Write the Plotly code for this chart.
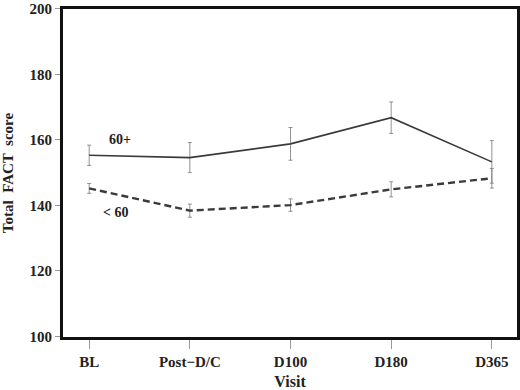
import plotly.graph_objects as go

visits = ["BL", "Post\u2212D/C", "D100", "D180", "D365"]
age60plus = [155.3, 154.6, 158.8, 166.8, 153.3]
age60plus_err = [3.1, 4.6, 5.0, 4.8, 6.5]
under60 = [145.2, 138.4, 140.1, 144.9, 148.3]
under60_err = [1.5, 2.0, 1.9, 2.3, 3.0]
y_ticks = [100, 120, 140, 160, 180, 200]

FONT = "Liberation Serif"
xi = list(range(len(visits)))

fig = go.Figure()
fig.add_trace(go.Scatter(
    x=xi, y=age60plus, mode="lines",
    line=dict(color="#3a3a3a", width=1.6),
    error_y=dict(type="data", array=age60plus_err, color="#777777", thickness=0.8, width=2),
    showlegend=False, cliponaxis=False))
fig.add_trace(go.Scatter(
    x=xi, y=under60, mode="lines",
    line=dict(color="#3a3a3a", width=2.4, dash="7px,4px"),
    error_y=dict(type="data", array=under60_err, color="#777777", thickness=0.8, width=2),
    showlegend=False, cliponaxis=False))

fig.add_annotation(x=0.31, y=160, text="<b>60+</b>", showarrow=False,
                   font=dict(family=FONT, size=14, color="#222"))
fig.add_annotation(x=0.26, y=137.8, text="<b>&lt; 60</b>", showarrow=False,
                   font=dict(family=FONT, size=14, color="#222"))

# plot frame
fig.add_shape(type="rect", xref="paper", yref="paper", x0=0, x1=1, y0=0, y1=1,
              line=dict(color="#111", width=2), layer="above")

fig.update_layout(
    width=520, height=390,
    margin=dict(l=62, r=2, t=8, b=52, autoexpand=False),
    paper_bgcolor="white", plot_bgcolor="white",
    font=dict(family=FONT, size=15, color="#222"),
)
fig.update_xaxes(
    range=[-0.27, 4.26], tickmode="array", tickvals=xi,
    ticktext=["<b>%s</b>" % v for v in visits],
    showgrid=False, zeroline=False, automargin=False,
    showline=True, linecolor="#111", linewidth=2, mirror=True,
    ticks="outside", ticklen=9, tickcolor="#999", tickwidth=1,
    title=dict(text="<b>Visit</b>", font=dict(family=FONT, size=16), standoff=11),
    tickfont=dict(family=FONT, size=15),
)
fig.update_yaxes(
    range=[99.5, 200.3], tickmode="array", tickvals=y_ticks,
    ticktext=["<b>%d</b>" % v for v in y_ticks],
    showgrid=False, zeroline=False, automargin=False,
    showline=True, linecolor="#111", linewidth=2, mirror=True,
    ticks="outside", ticklen=5, tickcolor="#999", tickwidth=1,
    ticklabeloverflow="allow",
    title=dict(text="<b>Total  FACT  score</b>", font=dict(family=FONT, size=15), standoff=14),
    tickfont=dict(family=FONT, size=15),
)

fig.write_html("out.html", config={"displayModeBar": False},
               post_script="document.body.style.margin='0';document.body.style.overflow='hidden';")
